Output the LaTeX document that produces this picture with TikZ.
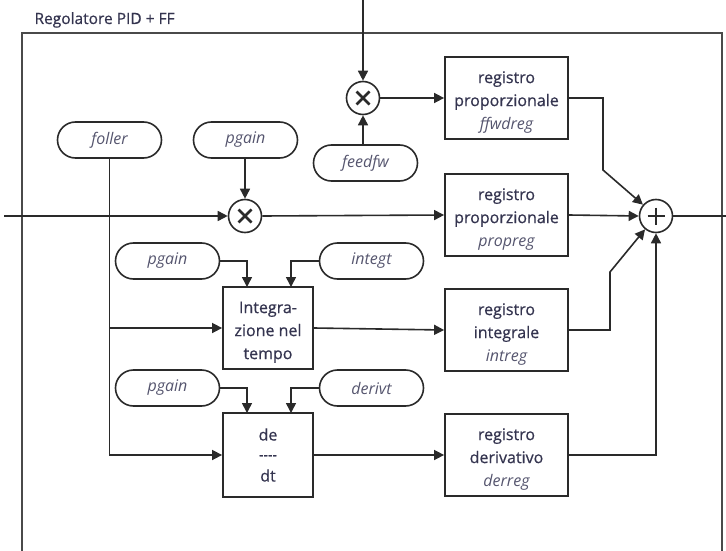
\documentclass[tikz,border=0pt]{standalone}
\usepackage{fontspec}
\setmainfont{Open Sans}[UprightFeatures={FakeBold=0.6}]
\usetikzlibrary{arrows.meta}
\definecolor{ink}{HTML}{2A2A2A}
\definecolor{framec}{HTML}{4A4A4A}
\definecolor{txt}{HTML}{34344F}
\definecolor{itx}{HTML}{55556E}
\newcommand{\topstrut}{\rule{0pt}{20pt}}
\tikzset{
  wire/.style={draw=ink, line width=1.6pt},
  flow/.style={wire, -{Triangle[length=10pt,width=10pt]}},
  regbox/.style={draw=ink, line width=1.8pt, minimum width=123pt, minimum height=82pt,
    align=center, inner sep=0pt, text=txt, font=\fontsize{16}{23}\selectfont},
  opbox/.style={regbox, minimum width=90pt},
  param/.style={draw=ink, line width=1.6pt, rounded corners=18pt, minimum width=104pt,
    minimum height=36pt, inner sep=0pt, text=itx, font=\fontsize{16}{20}\selectfont\itshape},
  junction/.style={circle, draw=ink, line width=1.6pt, minimum size=33pt, inner sep=0pt, fill=white},
  sign/.style={draw=ink, line width=2.8pt},
}
\begin{document}
\begin{tikzpicture}[x=1pt, y=-1pt]
\useasboundingbox (0,0) rectangle (726,551);

% outer frame and title
\draw[framec, line width=2pt] (22,552) -- (22,33) -- (722,33) -- (722,552);
\node[anchor=base west, text=txt, font=\fontsize{15.5}{18}\selectfont] (title) at (31,24) {Regolatore PID + FF};

% feed-forward branch
\coordinate (topin) at (363,0);
\node[junction] (mul1) at (363,98) {};
\draw[sign] (mul1.center) +(-6.5,-6.5) -- +(6.5,6.5);
\draw[sign] (mul1.center) +(-6.5,6.5) -- +(6.5,-6.5);
\node[param] (feedfw) at (365.5,163) {feedfw};
\node[regbox] (ffwdreg) at (506.5,98) {\topstrut registro\\proporzionale\\\textit{\color{itx}ffwdreg}};

% proportional branch
\node[param] (foller) at (109.5,140) {foller};
\node[param] (pgainA) at (245.5,140) {pgain};
\coordinate (in) at (4,216);
\node[junction] (mul2) at (245,216) {};
\draw[sign] (mul2.center) +(-6.5,-6.5) -- +(6.5,6.5);
\draw[sign] (mul2.center) +(-6.5,6.5) -- +(6.5,-6.5);
\node[regbox] (propreg) at (506.5,215) {\topstrut registro\\proporzionale\\\textit{\color{itx}propreg}};

% summing junction
\node[junction] (plus) at (656,216) {};
\draw[sign] (plus.center) +(-8.5,0) -- +(8.5,0);
\draw[sign] (plus.center) +(0,-8.5) -- +(0,8.5);
\coordinate (out) at (726,216);

% integral branch
\node[param] (pgainB) at (167.5,261) {pgain};
\node[param] (integt) at (371.5,261) {integt};
\node[opbox] (integ) at (268,328) {\topstrut Integra-\\zione nel\\tempo};
\node[regbox] (intreg) at (506.5,330) {\topstrut registro\\integrale\\\textit{\color{itx}intreg}};

% derivative branch
\node[param] (pgainC) at (167.5,388) {pgain};
\node[param] (derivt) at (371.5,388) {derivt};
\node[opbox, minimum height=84pt] (deriv) at (268,455)
  {de\\[-4pt]{\fontsize{14}{14}\selectfont {-}{-}{-}{-}}\\[-1pt]dt};
\node[regbox] (derreg) at (506.5,455) {\topstrut registro\\derivativo\\\textit{\color{itx}derreg}};

% connections
\draw[flow] (topin) -- (mul1.north);
\draw[flow] (feedfw.north -| mul1.south) -- (mul1.south);
\draw[flow] (mul1.east) -- (ffwdreg.west);
\draw[flow] (ffwdreg.east) -- (603,98) -- (603,170) -- (plus);

\draw[flow] (pgainA.south -| mul2.north) -- (mul2.north);
\draw[flow] (in) -- (mul2.west);
\draw[flow] (mul2.east) -- (propreg.west);
\draw[flow] (propreg.east) -- (plus.west);
\draw[wire] (plus.east) -- (out);

\draw[flow] (foller.south) -- (foller.south |- deriv.west) -- (deriv.west);
\draw[flow] (foller.south |- integ.west) -- (integ.west);

\draw[flow] (pgainB.east) -- (247,261) -- (247,287);
\draw[flow] (integt.west) -- (291,261) -- (291,287);
\draw[flow] (integ.east) -- (intreg.west);
\draw[flow] (intreg.east) -- (610,330) -- (610,272) -- (plus);

\draw[flow] (pgainC.east) -- (247,388) -- (247,413);
\draw[flow] (derivt.west) -- (291,388) -- (291,413);
\draw[flow] (deriv.east) -- (derreg.west);
\draw[flow] (derreg.east) -- (plus.south |- derreg.east) -- (plus.south);
\end{tikzpicture}
\end{document}
